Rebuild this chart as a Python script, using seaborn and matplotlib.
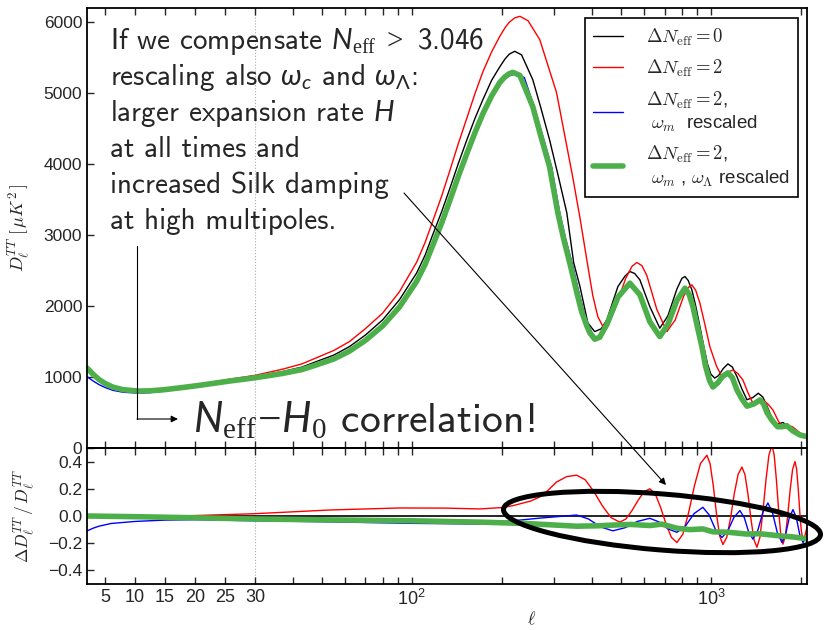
import numpy as np
import matplotlib
matplotlib.use("Agg")
import matplotlib.pyplot as plt
import seaborn as sns
from matplotlib.patches import Ellipse, FancyArrowPatch
from matplotlib.lines import Line2D
from matplotlib.ticker import FixedLocator, FixedFormatter, FuncFormatter

# ---------------- data ----------------
# D_l^TT [muK^2]
ell_std = [2, 3, 4, 5, 6.3, 8, 10.5, 12.5, 14.7, 17.5, 20.3, 23, 25.8, 30, 37, 43, 48, 55, 62, 70,
           80, 91, 104, 111, 117.5, 126, 134, 143, 153, 163, 173, 185, 197, 205, 212, 221, 233,
           254, 270, 289, 310, 330, 348, 365, 388, 409, 430, 449, 489, 516, 536, 556, 579, 625,
           675, 718, 770, 800, 819, 840, 864, 890, 919, 950, 975, 1000, 1030, 1060, 1100, 1140,
           1180, 1222, 1270, 1320, 1380, 1440, 1490, 1530, 1590, 1650, 1700, 1741, 1800, 1880,
           1980, 2095]
dl_std = [1130, 1040, 965, 910, 860, 825, 805, 810, 825, 855, 888, 922, 959, 1007, 1076, 1140, 1217,
          1310, 1429, 1590, 1805, 2087, 2468, 2720, 3000, 3330, 3650, 4000, 4344, 4650, 4908, 5180,
          5370, 5480, 5550, 5590, 5540, 5190, 4800, 4344, 3808, 3314, 2610, 2280, 1763, 1640, 1680,
          1805, 2275, 2420, 2487, 2460, 2370, 1993, 1688, 1860, 2240, 2390, 2416, 2360, 2228, 2000,
          1711, 1400, 1180, 1040, 985, 1020, 1120, 1185, 1140, 1006, 830, 680, 710, 772, 720, 620,
          450, 340, 345, 360, 310, 250, 205, 180]

ell_red = [2, 3, 4, 5, 6.3, 8, 10.5, 12.5, 14.7, 17.5, 20.3, 23, 25.8, 30, 37, 43, 48, 55, 62, 70,
           80, 91, 104, 111, 117.5, 126, 134, 143, 153, 163, 173, 185, 197, 205, 212, 221, 230,
           245, 268, 285, 305, 325, 346, 365, 385, 403, 419, 436, 476, 519, 545, 566, 588, 611,
           660, 713, 760, 810, 840, 864, 890, 919, 955, 992, 1045, 1089, 1120, 1150, 1185, 1230,
           1279, 1330, 1382, 1430, 1492, 1550, 1612, 1680, 1741, 1800, 1866, 1930, 1985, 2095]
dl_red = [1130, 1040, 965, 910, 860, 825, 805, 810, 825, 856, 892, 930, 970, 1024, 1110, 1185, 1270,
          1375, 1500, 1680, 1900, 2200, 2620, 2900, 3190, 3550, 3900, 4280, 4650, 5000, 5300, 5580,
          5800, 5920, 6000, 6060, 6083, 6020, 5755, 5400, 5007, 4400, 3800, 3250, 2650, 2150, 1850,
          1711, 1937, 2388, 2560, 2614, 2570, 2430, 1950, 1640, 1805, 2134, 2260, 2299, 2220, 2041,
          1740, 1429, 1150, 1006, 1030, 1075, 1100, 1050, 959, 780, 630, 640, 677, 620, 536, 380,
          285, 290, 305, 255, 212, 170]

ell_blue = [2, 3, 4, 5, 6.3, 8, 10.5, 12.5, 14.7, 17.5, 20.3, 23, 25.8, 30, 37, 43, 48, 55, 62, 70,
            80, 91, 104, 111, 117.5, 126, 134, 143, 153, 163, 173, 185, 197, 205, 212, 222, 238,
            258, 275, 294, 313, 327, 344, 362, 376, 391, 400, 415, 431, 455, 495, 540, 585, 630,
            682, 725, 778, 825, 851, 878, 906, 940, 968, 1000, 1025, 1065, 1105, 1150, 1190, 1235,
            1280, 1330, 1405, 1480, 1520, 1560, 1620, 1690, 1750, 1815, 1900, 2000, 2095]
dl_blue = [1005, 946, 893, 853, 813, 786, 773, 780, 800, 830, 864, 897, 928, 972, 1035, 1090, 1160,
           1245, 1350, 1500, 1700, 1960, 2310, 2550, 2800, 3120, 3430, 3770, 4100, 4400, 4660, 4920,
           5120, 5200, 5245, 5270, 5220, 4780, 4380, 3950, 3300, 2950, 2600, 2200, 1920, 1720, 1630,
           1540, 1570, 1740, 2120, 2300, 2150, 1770, 1560, 1730, 2070, 2240, 2160, 1980, 1710, 1400,
           1130, 920, 840, 910, 1000, 1040, 975, 800, 670, 570, 610, 660, 600, 480, 370, 280, 285,
           300, 225, 175, 150]

ell_grn = [2, 3, 4, 5, 6.3, 8, 10.5, 12.5, 14.7, 17.5, 20.3, 23, 25.8, 30, 37, 43, 48, 55, 62, 70,
           80, 91, 104, 111, 117.5, 126, 134, 143, 153, 163, 173, 185, 197, 205, 212, 218, 230,
           254, 270, 289, 308, 322, 338, 356, 370, 385, 394, 409, 425, 449, 489, 536, 579, 625,
           675, 718, 770, 819, 845, 871, 900, 933, 960, 990, 1015, 1055, 1095, 1140, 1180, 1222,
           1270, 1320, 1390, 1459, 1500, 1540, 1600, 1670, 1730, 1795, 1880, 1985, 2095]
dl_grn = [1128, 1040, 965, 910, 858, 822, 802, 806, 820, 848, 878, 910, 944, 990, 1050, 1105, 1170,
          1255, 1365, 1515, 1720, 1985, 2350, 2590, 2850, 3170, 3480, 3820, 4150, 4450, 4710, 4960,
          5150, 5230, 5275, 5293, 5250, 4810, 4400, 3963, 3314, 2950, 2600, 2200, 1920, 1720, 1622,
          1533, 1560, 1740, 2125, 2323, 2160, 1780, 1570, 1740, 2080, 2252, 2170, 1993, 1720, 1429,
          1150, 950, 860, 920, 1010, 1060, 990, 818, 690, 590, 620, 677, 620, 500, 390, 300, 300,
          315, 240, 183, 160]

# relative difference Delta D / D
rel_ell_red = [2, 10, 17.5, 30, 53, 91, 130, 169, 200, 218, 250, 268, 286, 305, 330, 356, 380, 406,
               434, 464, 496, 520, 545, 571, 597, 625, 652, 679, 708, 738, 770, 806, 843, 882, 923,
               970, 994, 1019, 1044, 1070, 1097, 1130, 1164, 1197, 1233, 1270, 1300, 1331, 1362,
               1393, 1425, 1458, 1492, 1527, 1563, 1600, 1627, 1655, 1684, 1712, 1741, 1773, 1806,
               1840, 1875, 1910, 1934, 1958, 1982, 2007, 2031, 2060, 2095]
rel_red = [0.0, 0.0, 0.0, 0.017, 0.044, 0.059, 0.058, 0.052, 0.062, 0.076, 0.11, 0.14, 0.19, 0.25,
           0.29, 0.30, 0.267, 0.181, 0.074, -0.012, -0.045, -0.022, 0.04, 0.115, 0.177, 0.20,
           0.162, 0.064, -0.059, -0.157, -0.195, -0.134, 0.027, 0.226, 0.386, 0.447, 0.384, 0.22,
           0.017, -0.147, -0.21, -0.156, -0.013, 0.163, 0.306, 0.36, 0.304, 0.156, -0.026, -0.174,
           -0.23, -0.158, 0.029, 0.261, 0.448, 0.52, 0.451, 0.269, 0.044, -0.138, -0.207, -0.149,
           0.002, 0.191, 0.342, 0.40, 0.346, 0.203, 0.027, -0.116, -0.17, -0.15, -0.08]

rel_ell_blue = [2, 3, 4, 6, 10, 15, 20, 30, 50, 100, 169, 218, 270, 356, 390, 428, 470, 517, 568,
                625, 670, 718, 770, 822, 879, 940, 987, 1037, 1089, 1140, 1194, 1250, 1293, 1337,
                1382, 1436, 1493, 1551, 1607, 1667, 1728, 1778, 1828, 1881, 1930, 1980, 2031, 2095]
rel_blue = [-0.11, -0.09, -0.075, -0.055, -0.04, -0.03, -0.027, -0.035, -0.042, -0.054, -0.059,
            -0.035, -0.015, 0.007, -0.022, -0.08, -0.109, -0.086, -0.04, -0.017, -0.043, -0.094,
            -0.12, -0.074, 0.018, 0.064, 0.008, -0.102, -0.158, -0.108, -0.01, 0.04, -0.012,
            -0.117, -0.17, -0.103, 0.03, 0.096, 0.023, -0.122, -0.195, -0.134, -0.013, 0.047,
            -0.013, -0.134, -0.195, -0.15]

rel_ell_grn = [2, 10, 20, 30, 50, 100, 169, 240, 356, 420, 470, 540, 625, 686, 770, 850, 940, 1015,
               1150, 1320, 1450, 1700, 1900, 2060, 2095]
rel_grn = [0.0, -0.005, -0.013, -0.022, -0.028, -0.035, -0.045, -0.055, -0.075, -0.072, -0.067,
           -0.062, -0.07, -0.06, -0.09, -0.1, -0.095, -0.116, -0.12, -0.133, -0.13, -0.146, -0.155,
           -0.165, -0.17]

labels = [r"$\Delta N_{\rm eff}=0$",
          r"$\Delta N_{\rm eff}=2$",
          "$\\Delta N_{\\rm eff}=2$,\n $\\omega_m$  rescaled",
          "$\\Delta N_{\\rm eff}=2$,\n $\\omega_m$ , $\\omega_\\Lambda$ rescaled"]

major_ticks = [5, 10, 15, 20, 25, 30, 100, 1000]
major_labels = ["5", "10", "15", "20", "25", "30", r"$\mathregular{10^2}$", r"$\mathregular{10^3}$"]
minor_ticks = [40, 50, 60, 70, 80, 90, 200, 300, 400, 500, 600, 700, 800, 900, 2000]

# ---------------- style ----------------
sns.set_style("ticks")
plt.rcParams["font.family"] = ["Liberation Sans", "DejaVu Sans"]
plt.rcParams["mathtext.fontset"] = "cm"
plt.rcParams["mathtext.it"] = "Lato:italic"
plt.rcParams["mathtext.rm"] = "Liberation Serif"
plt.rcParams["mathtext.sf"] = "Lato"
plt.rcParams["axes.unicode_minus"] = True

GREEN = "#4daf4a"

# linear in ell below 30, logarithmic above
L_SPLIT = 30.0
SLOPE = 6.0 / 299.0


def fwd(l):
    l = np.asarray(l, dtype=float)
    lg = np.log10(np.clip(l, 1e-3, None))
    lin = np.log10(L_SPLIT) + (l - L_SPLIT) * SLOPE
    return np.where(l <= L_SPLIT, lin, lg)


def inv(u):
    u = np.asarray(u, dtype=float)
    u0 = np.log10(L_SPLIT)
    return np.where(u <= u0, L_SPLIT + (u - u0) / SLOPE, 10 ** np.clip(u, -10, 10))


def px(x, y):
    # picture pixels (from top-left) -> inches from bottom-left
    return (x / 100.0, (630 - y) / 100.0)


fig = plt.figure(figsize=(8.24, 6.3), dpi=100)
ax1 = fig.add_axes([87 / 824, 1 - 448 / 630, 720 / 824, 440 / 630])
ax2 = fig.add_axes([87 / 824, 1 - 584 / 630, 720 / 824, 136 / 630])

for ax in (ax1, ax2):
    ax.set_facecolor("none")
    ax.set_xscale("function", functions=(fwd, inv))
    ax.set_xlim(2, 2095)
    ax.xaxis.set_major_locator(FixedLocator(major_ticks))
    ax.xaxis.set_minor_locator(FixedLocator(minor_ticks))
    ax.axvline(30, color="#aaaaaa", ls=":", lw=0.8, zorder=0)
    ax.tick_params(axis="x", which="both", direction="in", top=True, bottom=True,
                   length=5, width=1, labelsize=13)
    ax.tick_params(axis="y", which="both", direction="in", left=True, right=False,
                   length=5, width=1, labelsize=12.5)
    for s in ax.spines.values():
        s.set_linewidth(1.3)
        s.set_color("black")

# top panel
sns.lineplot(x=ell_std, y=dl_std, ax=ax1, color="black", lw=1.0, estimator=None, sort=False)
sns.lineplot(x=ell_red, y=dl_red, ax=ax1, color="red", lw=1.0, estimator=None, sort=False)
sns.lineplot(x=ell_blue, y=dl_blue, ax=ax1, color="blue", lw=1.0, estimator=None, sort=False)
sns.lineplot(x=ell_grn, y=dl_grn, ax=ax1, color=GREEN, lw=4.0, estimator=None, sort=False)
ax1.set_ylim(0, 6200)
ax1.set_yticks([0, 1000, 2000, 3000, 4000, 5000, 6000])
ax1.tick_params(axis="x", labelbottom=False)
ax1.set_xlabel("")
ax1.set_ylabel(r"$D_\ell^{TT}\;[\,\mu K^2\,]$", fontsize=13)
ax1.yaxis.set_label_coords(-0.076, 0.5)

handles = [Line2D([], [], color="black", lw=1.0), Line2D([], [], color="red", lw=1.0),
           Line2D([], [], color="blue", lw=1.0), Line2D([], [], color=GREEN, lw=4.0)]
leg = ax1.legend(handles, labels, loc="upper right", bbox_to_anchor=(0.9875, 0.977),
                 borderaxespad=0, fontsize=13.5, handlelength=1.6, handletextpad=1.2,
                 labelspacing=0.55, frameon=True, fancybox=False, framealpha=1,
                 borderpad=0.45)
leg.get_frame().set_edgecolor("black")
leg.get_frame().set_linewidth(1.2)

# bottom panel
sns.lineplot(x=[ell_std[0], ell_std[-1]], y=[0, 0], ax=ax2, color="black", lw=1.2,
             estimator=None, sort=False)
sns.lineplot(x=rel_ell_red, y=rel_red, ax=ax2, color="red", lw=1.0, estimator=None, sort=False)
sns.lineplot(x=rel_ell_blue, y=rel_blue, ax=ax2, color="blue", lw=1.0, estimator=None, sort=False)
sns.lineplot(x=rel_ell_grn, y=rel_grn, ax=ax2, color=GREEN, lw=4.0, estimator=None, sort=False)
ax2.set_ylim(-0.5, 0.5)
ax2.set_yticks([-0.4, -0.2, 0.0, 0.2, 0.4])
ax2.yaxis.set_major_formatter(FuncFormatter(lambda v, _: f"{v:.1f}".replace("-", "\u2212")))
ax2.xaxis.set_major_formatter(FixedFormatter(major_labels))
ax2.set_ylabel(r"$\Delta D_\ell^{TT}\,/\,D_\ell^{TT}$", fontsize=12.5)
ax2.yaxis.set_label_coords(-0.069, 0.5)
ax2.set_xlabel(r"$\ell$", fontsize=13)
ax2.xaxis.set_label_coords(0.617, -0.2)

# ---------------- annotations ----------------
tr = fig.dpi_scale_trans
note_kw = dict(transform=tr, fontsize=21, family=["cmss10", "DejaVu Sans"],
               math_fontfamily="custom", va="baseline", ha="left")
lines = [r"If we compensate $N_{\mathrm{eff}}\;>$ 3.046",
         r"rescaling also $\omega_c$ and $\omega_{\mathsf{\Lambda}}$:",
         r"larger expansion rate $H$",
         "at all times and",
         "increased Silk damping",
         "at high multipoles."]
for i, s in enumerate(lines):
    fig.text(*px(110, 49 + 36 * i), s, **note_kw)

big_kw = dict(note_kw)
big_kw["fontsize"] = 30
fig.text(*px(193, 432), r"$N_{\mathrm{eff}}\!-\!H_0$ correlation!", **big_kw)

fig.add_artist(FancyArrowPatch(px(404, 193), px(666, 485), transform=tr, arrowstyle="-|>",
                               mutation_scale=10, lw=0.8, color="black", shrinkA=0, shrinkB=0))
fig.add_artist(Line2D([px(137, 246)[0], px(137, 419)[0]], [px(137, 246)[1], px(137, 419)[1]],
                      transform=tr, lw=0.8, color="black"))
fig.add_artist(FancyArrowPatch(px(137, 419), px(178, 419), transform=tr, arrowstyle="-|>",
                               mutation_scale=10, lw=0.8, color="black", shrinkA=0, shrinkB=0))
fig.add_artist(Ellipse(px(662, 522), 3.18, 0.56, angle=-4.6, transform=tr, fill=False,
                       lw=3.6, edgecolor="black", zorder=5))

fig.savefig("out.png", dpi=100, facecolor="white")
